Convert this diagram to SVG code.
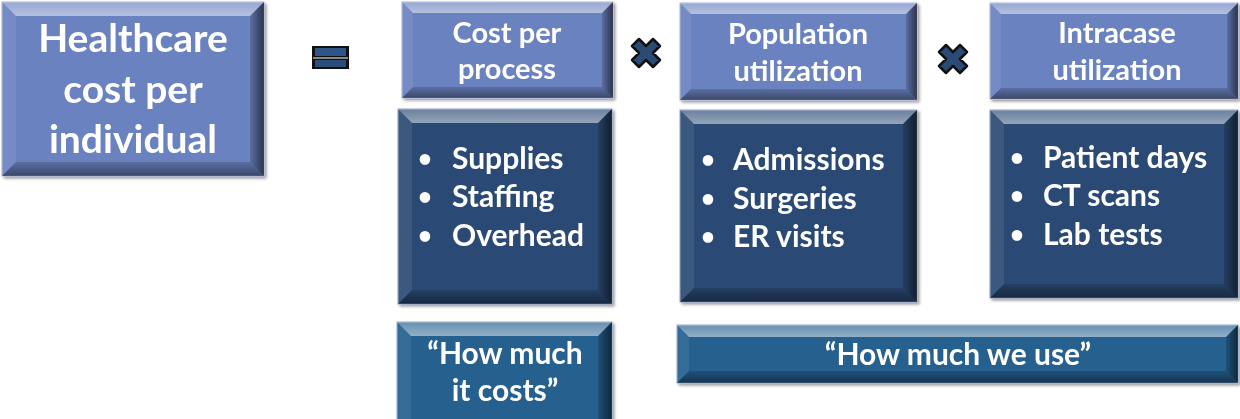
<svg xmlns="http://www.w3.org/2000/svg" width="1240" height="419" viewBox="0 0 1240 419">
<defs>
  <linearGradient id="gTop" x1="0" y1="0" x2="0" y2="1">
    <stop offset="0" stop-color="#fff" stop-opacity="0.3"/>
    <stop offset="1" stop-color="#fff" stop-opacity="0.5"/>
  </linearGradient>
  <linearGradient id="gBot" x1="0" y1="0" x2="0" y2="1">
    <stop offset="0" stop-color="#000" stop-opacity="0.15"/>
    <stop offset="1" stop-color="#000" stop-opacity="0.45"/>
  </linearGradient>
  <linearGradient id="gRight" x1="0" y1="0" x2="1" y2="0">
    <stop offset="0" stop-color="#000" stop-opacity="0.15"/>
    <stop offset="1" stop-color="#000" stop-opacity="0.6"/>
  </linearGradient>
  <filter id="sh" x="-5%" y="-5%" width="115%" height="115%">
    <feGaussianBlur in="SourceAlpha" stdDeviation="1.5"/>
    <feOffset dx="2" dy="2"/>
    <feComponentTransfer><feFuncA type="linear" slope="0.4"/></feComponentTransfer>
    <feMerge><feMergeNode/><feMergeNode in="SourceGraphic"/></feMerge>
  </filter>
</defs>
<style>
  .light { fill: #6B82C0; stroke: #A9B6DA; stroke-width: 1; }
  .dark { fill: #2B4A74; stroke: #8FA2C4; stroke-width: 1; }
  .quote { fill: #25608F; stroke: #8FB0D0; stroke-width: 1; }
  .ft { fill: url(#gTop); }
  .fl { fill: #fff; fill-opacity: 0.08; }
  .fr { fill: url(#gRight); }
  .fb { fill: url(#gBot); }
  .op { fill: #2B4A74; stroke: #111; stroke-width: 2.5; stroke-linejoin: round; }
  text { font-family: Lato, "Open Sans", "Liberation Sans", sans-serif; font-weight: bold; fill: #fff; }
  .big { font-size: 39px; }
  .hd { font-size: 29px; }
  .li { font-size: 30px; }
  .bu { font-size: 24px; }
  .q { font-size: 30px; }
  .mid { text-anchor: middle; }
</style>

<g id="node-main" filter="url(#sh)">
  <rect class="light" x="2" y="2" width="262" height="174"/>
  <polygon class="ft" points="2,2 264,2 250,16 16,16"/>
  <polygon class="fl" points="2,2 16,16 16,162 2,176"/>
  <polygon class="fr" points="264,2 264,176 250,162 250,16"/>
  <polygon class="fb" points="2,176 264,176 250,162 16,162"/>
  <text class="big mid" x="133" y="52">Healthcare</text>
  <text class="big mid" x="133" y="103">cost per</text>
  <text class="big mid" x="133" y="153">individual</text>
</g>

<g id="op-equals">
  <rect x="312" y="46" width="37" height="23" fill="#111"/>
  <rect x="315" y="48" width="31" height="8" fill="#2E5585"/>
  <rect x="313" y="57" width="35" height="2" fill="#888"/>
  <rect x="315" y="60" width="31" height="7" fill="#2A4D7A"/>
</g>

<g id="node-cost" filter="url(#sh)">
  <rect class="light" x="402" y="2" width="211" height="96"/>
  <polygon class="ft" points="402,2 613,2 602,13 413,13"/>
  <polygon class="fl" points="402,2 413,13 413,87 402,98"/>
  <polygon class="fr" points="613,2 613,98 602,87 602,13"/>
  <polygon class="fb" points="402,98 613,98 602,87 413,87"/>
  <text class="hd mid" x="507" y="43">Cost per</text>
  <text class="hd mid" x="507" y="79">process</text>
</g>

<g id="op-times-1">
  <path class="op" d="M632,46 L639,39 L646,46 L653,39 L660,46 L653,53 L660,60 L653,67 L646,60 L639,67 L632,60 L639,53 Z"/>
</g>

<g id="node-pop" filter="url(#sh)">
  <rect class="light" x="680" y="3" width="237" height="97"/>
  <polygon class="ft" points="680,3 917,3 906,14 691,14"/>
  <polygon class="fl" points="680,3 691,14 691,89 680,100"/>
  <polygon class="fr" points="917,3 917,100 906,89 906,14"/>
  <polygon class="fb" points="680,100 917,100 906,89 691,89"/>
  <text class="hd mid" x="798" y="44">Population</text>
  <text class="hd mid" x="798" y="81">utilization</text>
</g>

<g id="op-times-2">
  <path class="op" d="M939,52 L946,45 L953,52 L960,45 L967,52 L960,59 L967,66 L960,73 L953,66 L946,73 L939,66 L946,59 Z"/>
</g>

<g id="node-intra" filter="url(#sh)">
  <rect class="light" x="990" y="3" width="248" height="96"/>
  <polygon class="ft" points="990,3 1238,3 1227,14 1001,14"/>
  <polygon class="fl" points="990,3 1001,14 1001,88 990,99"/>
  <polygon class="fr" points="1238,3 1238,99 1227,88 1227,14"/>
  <polygon class="fb" points="990,99 1238,99 1227,88 1001,88"/>
  <text class="hd mid" x="1117" y="43">Intracase</text>
  <text class="hd mid" x="1117" y="80">utilization</text>
</g>

<g id="node-cost-items" filter="url(#sh)">
  <rect class="dark" x="398" y="109" width="214" height="195"/>
  <polygon class="ft" points="398,109 612,109 598,123 412,123"/>
  <polygon class="fl" points="398,109 412,123 412,290 398,304"/>
  <polygon class="fr" points="612,109 612,304 598,290 598,123"/>
  <polygon class="fb" points="398,304 612,304 598,290 412,290"/>
  <text class="bu" x="418" y="167">•</text><text class="li" x="452" y="169">Supplies</text>
  <text class="bu" x="418" y="205">•</text><text class="li" x="452" y="207">Staffing</text>
  <text class="bu" x="418" y="244">•</text><text class="li" x="452" y="246">Overhead</text>
</g>

<g id="node-pop-items" filter="url(#sh)">
  <rect class="dark" x="680" y="110" width="237" height="192"/>
  <polygon class="ft" points="680,110 917,110 903,124 694,124"/>
  <polygon class="fl" points="680,110 694,124 694,288 680,302"/>
  <polygon class="fr" points="917,110 917,302 903,288 903,124"/>
  <polygon class="fb" points="680,302 917,302 903,288 694,288"/>
  <text class="bu" x="701" y="168">•</text><text class="li" x="733" y="170">Admissions</text>
  <text class="bu" x="701" y="207">•</text><text class="li" x="733" y="209">Surgeries</text>
  <text class="bu" x="701" y="245">•</text><text class="li" x="733" y="247">ER visits</text>
</g>

<g id="node-intra-items" filter="url(#sh)">
  <rect class="dark" x="990" y="110" width="248" height="188"/>
  <polygon class="ft" points="990,110 1238,110 1224,124 1004,124"/>
  <polygon class="fl" points="990,110 1004,124 1004,284 990,298"/>
  <polygon class="fr" points="1238,110 1238,298 1224,284 1224,124"/>
  <polygon class="fb" points="990,298 1238,298 1224,284 1004,284"/>
  <text class="bu" x="1010" y="166">•</text><text class="li" x="1043" y="168">Patient days</text>
  <text class="bu" x="1010" y="204">•</text><text class="li" x="1043" y="206">CT scans</text>
  <text class="bu" x="1010" y="243">•</text><text class="li" x="1043" y="245">Lab tests</text>
</g>

<g id="node-quote-cost" filter="url(#sh)">
  <rect class="quote" x="397" y="322" width="215" height="100"/>
  <polygon class="ft" points="397,322 612,322 598,336 411,336"/>
  <polygon class="fl" points="397,322 411,336 411,422 397,422"/>
  <polygon class="fr" points="612,322 612,422 598,422 598,336"/>
  <text class="q mid" x="505" y="364">“How much</text>
  <text class="q mid" x="505" y="401">it costs”</text>
</g>

<g id="node-quote-use" filter="url(#sh)">
  <rect class="quote" x="677" y="325" width="561" height="58"/>
  <polygon class="ft" points="677,325 1238,325 1226,337 689,337"/>
  <polygon class="fl" points="677,325 689,337 689,371 677,383"/>
  <polygon class="fr" points="1238,325 1238,383 1226,371 1226,337"/>
  <polygon class="fb" points="677,383 1238,383 1226,371 689,371"/>
  <text class="q mid" x="958" y="365">“How much we use”</text>
</g>

<g id="connectors"></g>
</svg>
